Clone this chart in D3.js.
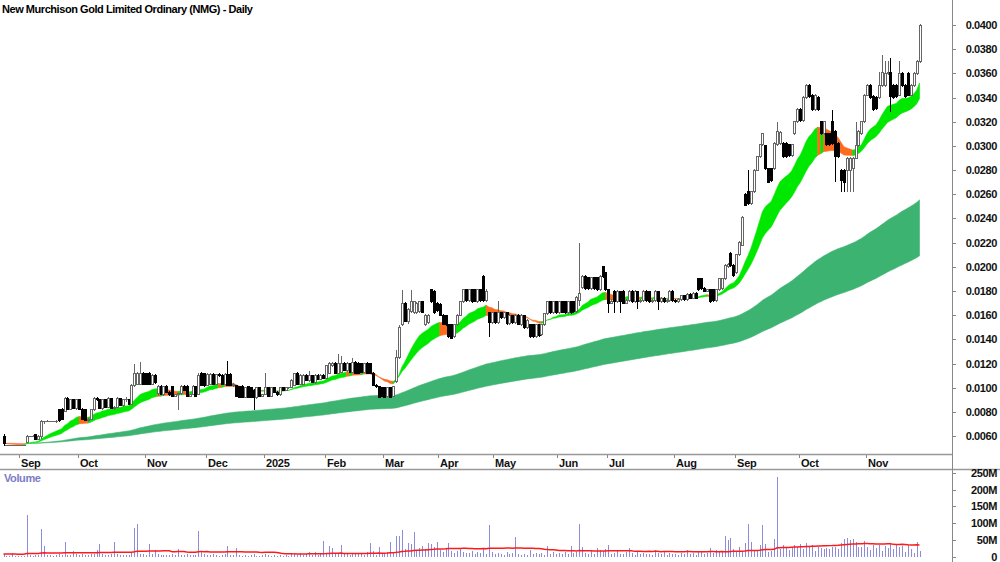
<!DOCTYPE html>
<html><head><meta charset="utf-8">
<script src="https://cdn.jsdelivr.net/npm/d3@7"></script>
<style>
html,body{margin:0;padding:0;background:#fff;}
svg{display:block;font-family:"Liberation Sans",Arial,sans-serif;}
</style></head><body>
<svg id="chart" width="1000" height="562"></svg>
<script>
// Prices in thousandths of a dollar (0.001), one entry per trading day, late Aug 2024 .. late Nov 2025
const open = [
 6.0,5.2,5.2,5.2,5.2,5.2,
 5.2,5.2,5.5,6.0,6.0,6.1,5.7,6.0,7.2,7.2,7.2,7.2,7.2,8.2,8.2,8.0,9.1,8.2,9.0,8.3,
 9.0,8.2,8.2,7.3,7.4,8.2,9.1,9.0,8.3,9.0,8.4,9.1,8.3,8.4,9.1,8.5,9.0,9.0,8.6,10.2,10.3,10.3,11.2,
 11.2,11.2,10.3,11.0,9.5,10.1,9.4,10.1,9.6,10.1,9.3,9.4,9.5,10.1,10.1,9.3,9.4,10.1,9.4,11.2,11.2,
 10.2,10.3,11.1,10.3,11.1,11.0,10.3,11.1,11.1,10.2,10.2,10.1,10.1,9.2,10.1,10.0,9.8,9.2,10.0,9.3,
 9.4,10.0,9.3,10.0,9.6,9.4,10.0,9.8,10.0,10.0,10.2,11.2,10.3,10.3,11.0,10.6,11.0,10.4,11.0,10.7,11.0,
 10.8,11.2,11.8,12.0,11.2,11.3,12.0,11.4,12.0,11.3,12.1,12.0,12.0,11.3,12.0,12.0,11.2,10.2,10.1,10.0,
 10.0,9.3,10.0,9.3,10.5,12.5,15.2,17.0,15.5,16.3,16.2,16.2,16.3,17.1,15.2,15.4,18.1,18.0,17.0,
 16.9,16.0,16.0,15.2,15.2,14.2,15.2,16.0,17.1,18.1,17.2,18.1,18.1,17.1,18.1,19.2,17.2,16.2,15.4,
 16.2,15.4,16.2,15.8,16.2,15.3,16.0,15.4,16.0,15.2,16.0,15.0,15.2,15.2,14.2,15.2,14.4,15.2,16.1,17.1,16.2,17.1,
 16.2,17.1,17.1,16.2,17.1,17.1,16.3,17.2,18.3,19.2,19.1,18.2,19.1,19.1,18.1,20.0,19.5,
 18.1,17.0,18.0,17.1,18.0,18.0,17.0,17.2,18.0,17.1,18.0,17.1,17.2,18.0,18.0,17.1,17.2,18.0,17.1,17.4,17.1,17.2,18.0,
 17.2,17.1,17.3,17.6,17.3,17.7,17.4,17.8,19.0,19.0,18.2,18.0,18.1,18.1,17.2,18.1,18.2,19.0,20.0,21.1,20.1,
 19.5,21.0,21.8,26.0,26.2,25.2,26.2,28.0,29.1,30.1,30.0,28.1,28.1,28.1,30.1,30.2,30.2,30.2,30.1,29.2,31.0,32.0,
 33.0,32.1,34.0,35.0,34.2,33.0,34.0,32.0,31.0,31.0,31.0,32.0,31.2,30.2,28.0,28.0,28.0,28.0,28.1,29.0,30.0,31.0,32.0,
 34.2,35.0,34.1,34.0,34.0,35.0,35.0,36.0,36.1,35.0,35.0,34.2,36.0,35.0,36.0,34.2,35.0,36.0,37.0
];
const high = [
 6.2,5.2,5.2,5.2,5.2,5.2,
 5.2,5.2,6.1,6.0,6.1,6.1,6.1,7.3,7.2,7.3,7.2,7.2,7.3,8.2,8.3,9.2,9.2,9.1,9.1,9.1,
 9.1,8.3,8.2,7.5,8.2,9.2,9.2,9.1,9.1,9.1,9.2,9.1,8.5,9.2,9.1,9.1,9.2,9.1,10.3,12.0,11.3,12.1,11.3,
 11.2,11.3,11.1,11.1,10.2,10.2,10.1,10.2,9.7,10.1,9.5,9.6,10.2,10.2,10.2,9.5,10.2,10.1,11.2,11.3,11.2,
 11.2,11.2,11.2,11.1,11.2,11.1,11.2,12.2,11.2,10.4,10.2,10.1,10.2,10.1,10.1,10.0,9.9,10.1,10.1,9.5,
 11.2,10.1,10.1,10.0,9.7,10.1,10.1,10.1,10.1,10.7,11.2,11.3,11.1,11.1,11.1,11.4,11.0,11.1,11.1,11.1,11.1,
 11.9,12.1,12.1,12.1,12.8,12.6,12.1,12.1,12.0,12.5,12.2,12.1,12.0,12.0,12.1,12.0,11.3,10.3,10.1,10.0,
 10.1,10.1,10.0,10.1,13.1,15.2,18.1,17.1,16.6,18.1,17.2,17.1,17.2,17.2,16.1,16.1,18.2,18.1,17.1,
 17.0,16.1,16.0,15.3,15.2,15.3,16.1,17.2,18.2,18.2,18.2,18.1,18.2,18.2,18.1,19.3,18.2,16.3,16.3,
 16.3,17.2,16.3,16.3,16.3,16.1,16.0,16.1,16.1,16.1,16.0,15.7,15.3,15.2,15.3,15.3,15.3,16.2,17.2,17.2,17.2,17.1,
 17.2,17.2,17.1,17.2,17.1,17.2,17.6,22.0,19.3,19.3,19.2,19.2,19.1,19.2,19.3,20.1,19.6,
 18.2,17.3,18.1,18.1,18.0,18.1,17.3,18.1,18.1,18.1,18.0,17.3,18.1,18.1,18.0,17.3,18.1,18.0,17.5,17.5,17.3,18.1,18.1,
 17.3,17.4,17.7,17.7,17.8,17.8,17.9,17.9,19.1,19.1,18.3,18.2,18.2,18.1,18.2,19.1,19.1,20.2,20.3,21.2,20.2,
 21.1,22.1,24.2,26.1,28.0,26.3,28.1,29.2,30.2,31.1,30.1,28.2,28.2,30.3,32.0,31.2,30.3,30.3,30.2,30.2,32.1,33.1,
 33.1,34.1,35.1,35.1,34.3,34.3,34.1,32.1,32.1,31.1,31.1,33.0,31.3,30.3,28.1,28.1,29.1,29.1,29.1,32.0,31.3,32.1,34.3,
 35.1,35.1,34.2,34.1,36.1,37.5,37.0,37.0,37.3,35.1,35.1,37.0,36.1,35.1,36.1,35.1,36.1,37.1,40.1
];
const low = [
 5.2,5.2,5.2,5.2,5.2,5.2,
 5.2,5.2,5.5,6.0,5.9,5.7,5.7,5.8,7.0,7.2,7.2,7.2,7.1,7.2,7.3,8.0,8.2,8.2,8.3,8.2,
 8.2,7.4,7.3,7.2,7.4,8.1,8.9,8.3,8.2,8.4,8.3,8.3,8.2,8.4,8.5,8.4,8.8,8.6,8.6,10.1,10.2,10.2,10.3,
 10.3,10.2,10.2,10.3,9.3,9.4,9.3,9.6,9.3,9.3,9.2,8.2,9.4,9.7,9.3,9.2,9.4,9.3,9.4,10.2,10.1,
 10.2,10.2,10.3,10.2,10.9,10.3,10.3,10.2,10.2,10.1,9.2,9.2,9.2,9.2,9.2,9.2,8.2,9.1,9.3,9.2,
 9.4,9.3,9.2,9.6,9.3,9.3,9.7,9.7,9.9,10.0,10.2,10.3,10.2,10.3,10.6,10.5,10.4,10.3,10.7,10.6,10.7,
 10.8,11.1,11.7,11.2,11.2,11.2,11.4,11.3,11.3,11.2,11.2,11.2,11.3,11.2,11.2,11.2,10.2,10.0,9.2,9.3,
 9.2,9.2,9.2,9.2,10.4,12.4,15.1,15.4,15.3,16.2,16.1,16.1,16.2,16.2,15.1,15.3,17.0,16.1,16.3,
 15.9,15.2,15.1,14.1,14.0,14.1,15.1,16.0,17.0,17.1,17.1,17.0,17.1,17.0,17.1,17.1,17.1,14.2,15.3,
 15.3,15.3,15.7,15.7,15.2,15.2,15.3,15.3,15.2,15.1,14.9,14.9,14.1,14.1,14.1,14.2,14.3,15.1,16.0,16.1,16.1,16.1,
 16.1,16.2,16.1,16.1,16.1,16.2,16.2,16.8,18.2,18.1,18.1,18.1,18.1,18.0,18.0,19.1,18.0,
 16.2,16.9,16.2,17.0,16.2,16.9,16.9,17.1,17.0,17.0,16.5,17.0,17.1,17.1,17.0,17.0,17.1,16.4,17.0,17.0,17.0,17.1,17.1,
 17.0,17.0,17.2,17.2,17.2,17.3,17.3,17.3,18.0,18.1,17.9,17.9,17.0,17.1,17.1,18.0,18.1,18.9,19.9,20.0,19.2,
 19.4,20.9,21.7,25.0,25.1,25.1,26.1,27.9,29.0,30.0,28.0,26.9,27.0,28.0,30.0,30.1,29.0,29.0,29.1,29.1,30.9,31.9,
 32.0,32.0,33.9,34.0,32.9,32.9,32.9,30.9,30.9,30.0,30.0,30.1,27.0,29.0,26.2,26.2,26.2,26.2,26.2,28.9,29.9,30.9,31.9,
 34.1,33.9,32.9,33.0,33.9,34.9,34.9,35.9,32.8,33.9,34.0,34.1,34.9,34.0,34.1,34.1,34.9,35.9,36.9
];
const close = [
 5.4,5.2,5.2,5.2,5.2,5.2,
 5.2,5.2,6.0,6.0,6.0,5.7,6.0,7.2,7.2,7.2,7.2,7.2,7.2,7.3,7.4,9.1,8.2,9.0,8.3,9.0,
 8.2,7.4,7.3,7.4,8.2,9.1,9.0,8.3,9.0,8.4,9.1,8.3,8.4,9.1,8.5,9.0,9.0,8.6,10.2,11.2,11.2,11.2,10.3,
 10.3,10.3,11.0,10.4,10.1,9.4,10.1,9.6,9.4,9.3,9.4,9.5,10.1,9.8,9.3,9.4,10.1,9.3,11.0,10.2,10.2,
 11.1,11.1,10.3,11.1,11.0,10.3,11.1,10.2,10.2,10.3,9.3,9.2,9.2,10.0,9.2,9.2,9.2,10.0,9.3,9.4,
 10.0,9.3,10.0,9.6,9.4,10.0,9.8,10.0,10.0,10.6,11.2,10.3,11.0,11.0,10.6,11.0,10.4,11.0,10.7,11.0,10.8,
 11.8,12.0,12.0,11.2,12.0,12.0,11.4,12.0,11.3,12.1,11.2,11.2,11.3,12.0,11.2,11.2,10.2,10.1,9.2,9.3,
 9.2,10.0,9.2,10.1,12.5,15.0,17.0,15.5,16.5,17.1,17.1,17.0,17.1,16.2,16.0,16.0,17.1,16.2,16.4,
 16.0,15.2,15.2,14.2,14.1,15.2,16.0,17.1,18.1,17.2,18.1,17.1,17.1,18.1,17.2,17.2,18.0,15.4,16.2,
 15.4,16.2,15.8,16.2,15.3,16.0,15.4,16.0,15.2,16.0,15.0,15.6,14.2,14.2,15.2,14.3,15.2,16.1,17.1,16.2,17.1,16.2,
 17.1,16.2,16.2,17.1,16.2,16.3,17.5,17.8,19.2,18.2,18.2,19.1,18.2,18.1,19.2,19.2,18.1,
 17.0,17.1,17.1,18.0,17.1,17.0,17.2,18.0,17.1,18.0,17.1,17.2,18.0,17.2,17.1,17.2,18.0,17.1,17.4,17.1,17.2,18.0,17.2,
 17.1,17.3,17.6,17.3,17.7,17.4,17.8,17.4,18.1,18.2,18.0,18.1,17.1,17.2,18.1,19.0,19.0,20.1,20.2,20.1,19.3,
 21.0,22.0,24.1,25.1,25.2,26.2,28.0,29.1,30.1,31.0,28.1,27.0,27.1,30.2,31.2,31.1,29.1,29.1,29.2,30.1,32.0,33.0,
 32.1,34.0,35.0,34.1,33.0,34.2,33.0,31.0,32.0,30.1,30.1,30.2,29.1,29.1,27.1,27.0,29.0,29.0,29.0,30.0,31.2,32.0,34.2,
 35.0,34.0,33.0,33.1,35.0,36.1,36.0,36.1,34.1,34.0,34.1,36.0,35.0,34.1,34.2,35.0,36.0,37.0,40.0
];
// Volume in millions of shares
const volume = [
 8,3,2,11,2,3,
 2,3,126,5,3,4,6,83,32,4,5,3,6,8,5,45,6,4,17,7,
 5,8,6,4,7,9,20,37,8,6,5,9,43,7,6,5,4,6,12,86,97,9,7,
 6,38,8,20,7,5,6,4,5,9,4,23,6,5,8,4,6,5,77,14,7,
 6,5,8,4,3,6,9,32,6,4,25,5,3,4,2,6,8,3,2,4,
 9,5,3,6,2,5,3,4,2,7,8,5,12,6,9,14,5,13,4,10,48,
 9,32,25,12,8,35,7,9,6,11,8,7,10,6,13,40,18,6,30,9,
 12,15,44,14,63,63,79,22,41,38,74,18,25,32,22,40,38,28,43,
 20,15,22,40,18,12,16,24,14,10,12,18,9,15,11,26,8,95,14,
 9,12,8,6,14,7,10,60,8,5,9,6,20,8,10,7,12,6,32,9,14,8,
 10,7,13,9,32,12,15,99,28,11,8,18,9,25,20,16,22,
 35,8,12,20,9,7,14,27,10,6,15,8,11,7,9,5,20,12,7,18,6,10,8,
 9,5,12,7,20,8,10,6,18,14,9,12,27,10,20,15,18,62,50,57,22,
 18,28,15,42,99,44,20,16,35,96,38,15,18,53,237,22,35,28,20,25,34,30,
 38,22,40,28,35,18,30,26,24,25,22,28,30,24,42,52,55,50,54,45,30,28,48,
 30,20,36,25,35,18,33,26,37,22,34,28,32,15,36,24,12,45,17
];
const monthLabels = ["Sep","Oct","Nov","Dec","2025","Feb","Mar","Apr","May","Jun","Jul","Aug","Sep","Oct","Nov"];
const monthStart  = [6,26,49,70,90,111,131,150,169,191,208,231,252,274,297];
const priceTicks  = ["0.0060","0.0080","0.0100","0.0120","0.0140","0.0160","0.0180","0.0200","0.0220","0.0240","0.0260","0.0280","0.0300","0.0320","0.0340","0.0360","0.0380","0.0400"];
const volumeTicks = ["0","50M","100M","150M","200M","250M"];
const title = "New Murchison Gold Limited Ordinary (NMG) - Daily";

const N = close.length;
const svg = d3.select('#chart');
const AX = 952;
const x = d3.scaleLinear().domain([0, N-1]).range([3.5, 919.5]);
const y = d3.scaleLinear().domain([4.52, 42.07]).range([454, 0]);
const yv = d3.scaleLinear().domain([0, 250]).range([556.7, 473]);

const defs = svg.append('defs');
defs.append('clipPath').attr('id','pclip').append('rect').attr('x',0).attr('y',0).attr('width',AX).attr('height',454);
defs.append('clipPath').attr('id','vclip').append('rect').attr('x',0).attr('y',470).attr('width',AX).attr('height',92);

function ema(a,n){const k=2/(n+1);let e=a[0];return a.map((v,i)=>{if(i>0)e=e+k*(v-e);return e;});}
function sma(a,n){return a.map((v,i)=>{let s=0;for(let j=i-n+1;j<=i;j++)s+=a[Math.max(0,j)];return s/n;});}

const shortFast = ema(close,17), shortSlow = ema(close,30);
const longFast = ema(close,140), longSlow = ema(close,250);

const pg = svg.append('g').attr('clip-path','url(#pclip)');
const area = d3.area().x(d=>x(d.i)).y0(d=>y(d.s)).y1(d=>y(d.f));
// mode 'cross': colour by fast vs slow; mode 'slope': colour by direction of the fast average
function drawBand(f,s,upC,downC,mode){
  const runs=[];let cur=null;
  for(let i=0;i<N;i++){
    if(mode==='cross'){
      const d=f[i]-s[i], up=d>=0;
      if(cur&&cur.up!==up){
        const dp=f[i-1]-s[i-1], t=dp/(dp-d), xi=i-1+t, v=s[i-1]+(s[i]-s[i-1])*t;
        cur.pts.push({i:xi,f:v,s:v}); runs.push(cur); cur={up,pts:[{i:xi,f:v,s:v}]};
      }
      if(!cur)cur={up,pts:[]};
    } else {
      const up = i===0 ? true : f[i]>=f[i-1];
      if(cur&&cur.up!==up){
        const prev=cur.pts[cur.pts.length-1];
        runs.push(cur); cur={up,pts:[prev]};
      }
      if(!cur)cur={up,pts:[]};
    }
    cur.pts.push({i,f:f[i],s:s[i]});
  }
  runs.push(cur);
  pg.append('g').selectAll('path').data(runs).enter().append('path')
    .attr('d',r=>area(r.pts)).attr('fill',r=>r.up?upC:downC)
    .attr('stroke',r=>r.up?upC:downC).attr('stroke-width',0.6);
}
drawBand(longFast,longSlow,'#3cb371','#ff8f7a','cross');
drawBand(shortFast,shortSlow,'#00e800','#ff6a1c','slope');

// candles
const cg = pg.append('g').attr('shape-rendering','crispEdges');
for(let i=0;i<N;i++){
  const cx = Math.round(x(i))+0.5;
  const o=open[i], c=close[i], up = c>=o;
  const col = up ? '#666' : '#000';
  cg.append('line').attr('x1',cx).attr('x2',cx).attr('y1',y(high[i])).attr('y2',y(low[i])).attr('stroke',col).attr('stroke-width',1);
  if(Math.abs(o-c)<0.05){
    cg.append('line').attr('x1',cx-1.5).attr('x2',cx+1.5).attr('y1',y(c)).attr('y2',y(c)).attr('stroke',col).attr('stroke-width',1);
  } else {
    const top=y(Math.max(o,c)), bot=y(Math.min(o,c));
    cg.append('rect').attr('x',cx-1).attr('width',2).attr('y',top).attr('height',Math.max(1,bot-top))
      .attr('fill',up?'#fff':'#000').attr('stroke',col).attr('stroke-width',1);
  }
}

// frame lines
const lineCol='#999';
svg.append('line').attr('x1',0).attr('x2',AX).attr('y1',454.5).attr('y2',454.5).attr('stroke',lineCol).attr('stroke-width',1.5);
svg.append('line').attr('x1',0).attr('x2',1000).attr('y1',469.5).attr('y2',469.5).attr('stroke',lineCol).attr('stroke-width',1.5);
svg.append('line').attr('x1',AX+0.5).attr('x2',AX+0.5).attr('y1',0).attr('y2',562).attr('stroke','#888').attr('stroke-width',1);

// price axis
const ya = svg.append('g');
priceTicks.forEach(lbl=>{
  const v=parseFloat(lbl)*1000, yy=Math.round(y(v))+0.5;
  ya.append('line').attr('x1',AX).attr('x2',AX+4).attr('y1',yy).attr('y2',yy).attr('stroke','#888');
  ya.append('text').attr('x',997).attr('y',y(v)).attr('dy','0.36em').attr('text-anchor','end')
    .attr('font-size',11).attr('font-weight','bold').attr('letter-spacing',-0.4).attr('fill','#111').text(lbl);
});

// month axis
monthLabels.forEach((lbl,k)=>{
  const tx = Math.round(x(monthStart[k]) - (x(1)-x(0))/2)+0.5;
  svg.append('line').attr('x1',tx).attr('x2',tx).attr('y1',455).attr('y2',458).attr('stroke','#888');
  svg.append('text').attr('x',tx+1.5).attr('y',466.5).attr('font-size',11).attr('font-weight','bold').attr('letter-spacing',-0.2).attr('fill','#111').text(lbl);
});

// title
svg.append('text').attr('x',2).attr('y',13).attr('font-size',11).attr('font-weight','bold').attr('letter-spacing',-0.45).attr('fill','#000').text(title);

// volume panel
const vg = svg.append('g').attr('clip-path','url(#vclip)');
vg.append('g').attr('shape-rendering','crispEdges').selectAll('line').data(volume).enter().append('line')
  .attr('x1',(d,i)=>Math.round(x(i))+0.5).attr('x2',(d,i)=>Math.round(x(i))+0.5)
  .attr('y1',yv(0)).attr('y2',d=>yv(d)).attr('stroke','#8c8cd8').attr('stroke-width',1);
const vma = sma(volume,50);
vg.append('path').attr('d',d3.line().x((d,i)=>x(i)).y(d=>yv(d))(vma)).attr('fill','none').attr('stroke','#ff1a1a').attr('stroke-width',1.5);
svg.append('text').attr('x',4).attr('y',482).attr('font-size',11).attr('font-weight','bold').attr('letter-spacing',-0.4).attr('fill','#7b7bc6').text('Volume');
volumeTicks.forEach((lbl,k)=>{
  const v=k*50, yy=Math.round(yv(v))+0.5;
  svg.append('line').attr('x1',AX).attr('x2',AX+4).attr('y1',yy).attr('y2',yy).attr('stroke','#888');
  svg.append('text').attr('x',997).attr('y',yv(v)).attr('dy','0.36em').attr('text-anchor','end')
    .attr('font-size',11).attr('font-weight','bold').attr('letter-spacing',-0.4).attr('fill','#111').text(lbl);
});
</script></body></html>
